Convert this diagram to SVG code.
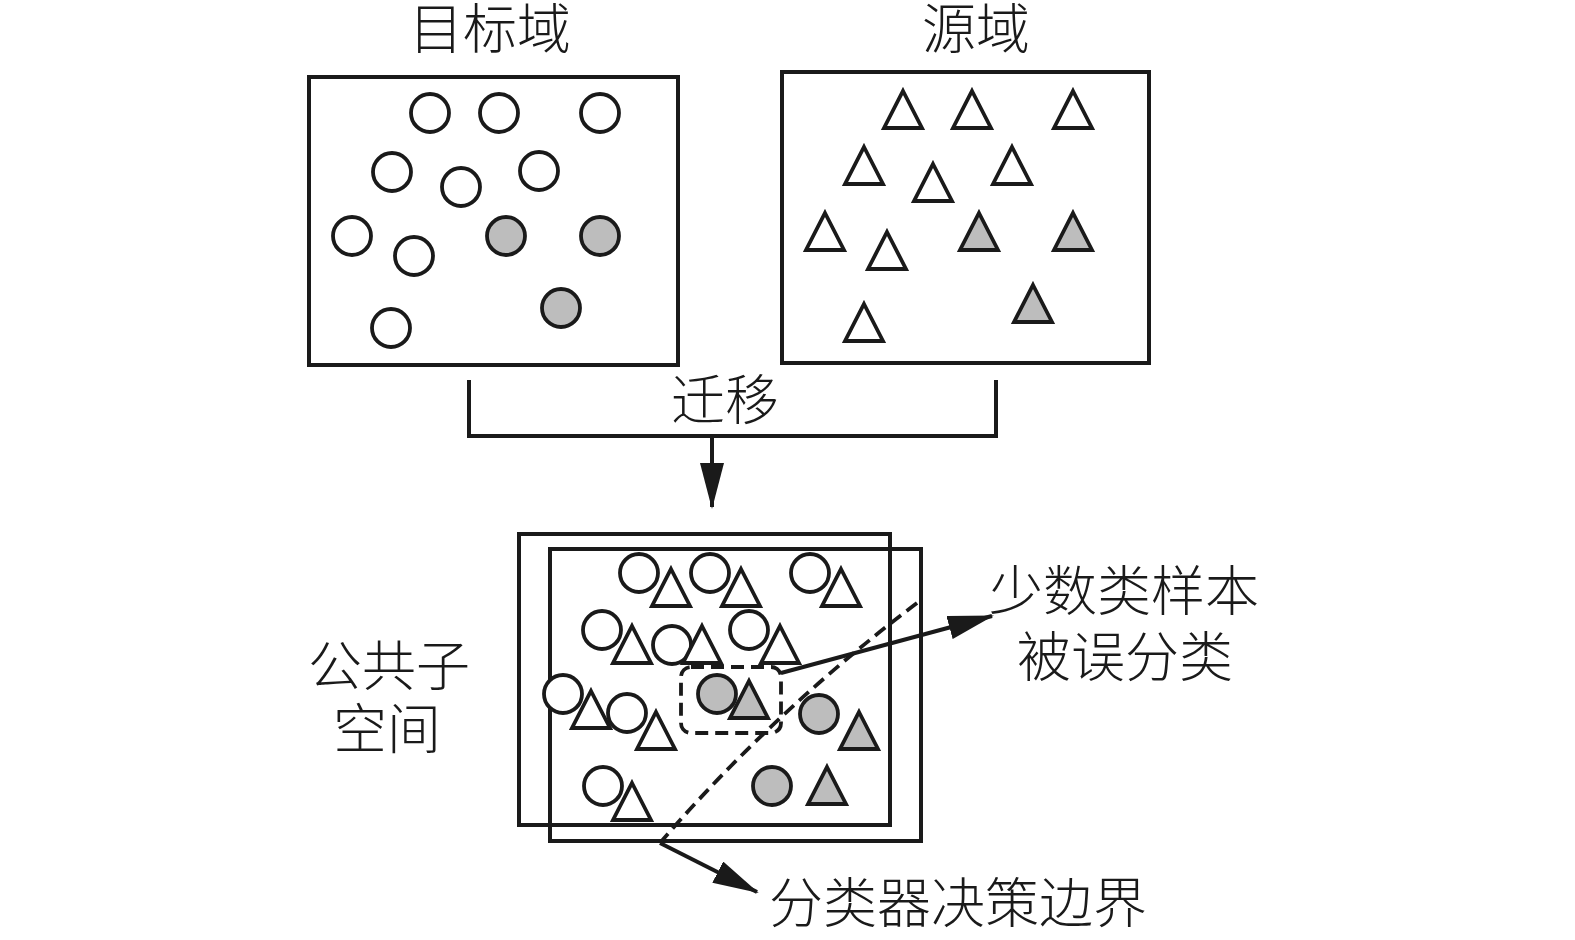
<svg xmlns="http://www.w3.org/2000/svg" xmlns:xlink="http://www.w3.org/1999/xlink" width="1575" height="940" viewBox="0 0 1575 940">
<style>
.box{fill:none;stroke:#1a1a1a;stroke-width:4}
.o{fill:#fff;stroke:#1a1a1a;stroke-width:3.8}
.g{fill:#bdbdbd;stroke:#1a1a1a;stroke-width:3.8}
.ln{fill:none;stroke:#1a1a1a;stroke-width:4}
.dash{fill:none;stroke:#1a1a1a;stroke-width:3.8;stroke-dasharray:13 7}
.t{font-family:"Liberation Serif","Noto Sans CJK SC",serif;font-size:54px;font-weight:300;fill:#1a1a1a;text-anchor:middle}
</style>
<defs>
<path id="tri" d="M0,0 L19,37 L-19,37 Z" stroke-linejoin="miter"/>
<marker id="ah" viewBox="0 0 46 24" refX="44" refY="12" markerWidth="46" markerHeight="24" markerUnits="userSpaceOnUse" orient="auto">
<path d="M0,0 L46,12 L0,24 Z" fill="#1a1a1a"/>
</marker>
</defs>
<rect width="1575" height="940" fill="#fff"/>

<g id="target-domain">
<rect class="box" x="309" y="77" width="369" height="288"/>
<circle class="o" cx="430" cy="113" r="19"/>
<circle class="o" cx="499" cy="113" r="19"/>
<circle class="o" cx="600" cy="113" r="19"/>
<circle class="o" cx="392" cy="172" r="19"/>
<circle class="o" cx="461" cy="187" r="19"/>
<circle class="o" cx="539" cy="171" r="19"/>
<circle class="o" cx="352" cy="236" r="19"/>
<circle class="o" cx="414" cy="256" r="19"/>
<circle class="g" cx="506" cy="236" r="19"/>
<circle class="g" cx="600" cy="236" r="19"/>
<circle class="g" cx="561" cy="308" r="19"/>
<circle class="o" cx="391" cy="328" r="19"/>
<text class="t" x="490" y="49">目标域</text>
</g>

<g id="source-domain">
<rect class="box" x="782" y="72" width="367" height="291"/>
<use href="#tri" class="o" transform="translate(903,91)"/>
<use href="#tri" class="o" transform="translate(972,91)"/>
<use href="#tri" class="o" transform="translate(1073,91)"/>
<use href="#tri" class="o" transform="translate(864,147)"/>
<use href="#tri" class="o" transform="translate(933,164)"/>
<use href="#tri" class="o" transform="translate(1012,147)"/>
<use href="#tri" class="o" transform="translate(825,213)"/>
<use href="#tri" class="o" transform="translate(887,232)"/>
<use href="#tri" class="g" transform="translate(979,213)"/>
<use href="#tri" class="g" transform="translate(1073,213)"/>
<use href="#tri" class="g" transform="translate(1033,285)"/>
<use href="#tri" class="o" transform="translate(864,304)"/>
<text class="t" x="976" y="49">源域</text>
</g>

<g id="common-subspace">
<rect class="box" x="519" y="534" width="371" height="291"/>
<rect class="box" x="550" y="549" width="371" height="292"/>
<circle class="o" cx="639" cy="573" r="19"/>
<use href="#tri" class="o" transform="translate(671,569)"/>
<circle class="o" cx="710" cy="573" r="19"/>
<use href="#tri" class="o" transform="translate(741,569)"/>
<circle class="o" cx="810" cy="573" r="19"/>
<use href="#tri" class="o" transform="translate(841,569)"/>
<circle class="o" cx="602" cy="630" r="19"/>
<use href="#tri" class="o" transform="translate(632,626)"/>
<circle class="o" cx="672" cy="645" r="19"/>
<use href="#tri" class="o" transform="translate(702,626)"/>
<circle class="o" cx="749" cy="630" r="19"/>
<use href="#tri" class="o" transform="translate(780,626)"/>
<circle class="o" cx="563" cy="694" r="19"/>
<use href="#tri" class="o" transform="translate(591,691)"/>
<circle class="o" cx="627" cy="713" r="19"/>
<use href="#tri" class="o" transform="translate(656,712)"/>
<circle class="g" cx="717" cy="694" r="19"/>
<use href="#tri" class="g" transform="translate(749,681)"/>
<circle class="g" cx="819" cy="714" r="19"/>
<use href="#tri" class="g" transform="translate(859,712)"/>
<circle class="o" cx="603" cy="786" r="19"/>
<use href="#tri" class="o" transform="translate(632,783)"/>
<circle class="g" cx="772" cy="786" r="19"/>
<use href="#tri" class="g" transform="translate(827,767)"/>
<rect class="dash" x="681" y="667" width="100" height="66" rx="10"/>
<text class="t" x="389" y="686">公共子</text>
<text class="t" x="387" y="749">空间</text>
</g>

<g id="labels">
<text class="t" x="725" y="420">迁移</text>
<text class="t" x="1124" y="611">少数类样本</text>
<text class="t" x="1125" y="677">被误分类</text>
<text class="t" x="958" y="923">分类器决策边界</text>
</g>

<g id="connectors">
<path class="ln" d="M469,380 V436 H996 V380"/>
<line class="ln" x1="712" y1="436" x2="712" y2="507" marker-end="url(#ah)"/>
<path class="dash" d="M917,603 Q773,712 660,843"/>
<line class="ln" x1="781" y1="673" x2="992" y2="616" marker-end="url(#ah)"/>
<line class="ln" x1="660" y1="843" x2="757" y2="892" marker-end="url(#ah)"/>
</g>
</svg>
